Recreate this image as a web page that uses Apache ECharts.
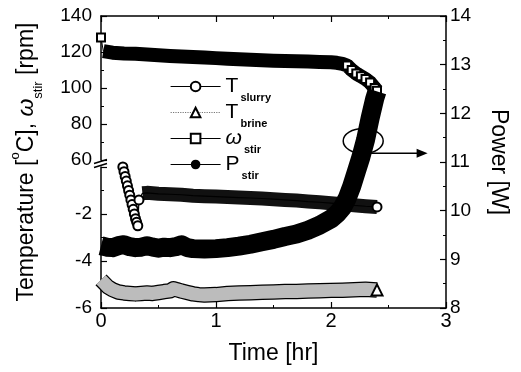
<!DOCTYPE html>
<html><head><meta charset="utf-8">
<script src="https://cdn.jsdelivr.net/npm/echarts@6/dist/echarts.min.js"></script>
<style>html,body{margin:0;padding:0;background:#fff}#c{width:521px;height:372px}</style>
</head><body><div id="c"></div><script>
// ---- data ----
const xTicks = [0, 1, 2, 3];
const upperTicks = [60, 80, 100, 120, 140];
const lowerTicks = [-6, -4, -2];
const powerTicks = [8, 9, 10, 11, 12, 13, 14];

// Stirring power P_stir [W] (right axis)
const pTime  = [0,0.05,0.1,0.15,0.2,0.25,0.3,0.35,0.4,0.45,0.5,0.55,0.6,0.65,0.7,0.75,0.8,0.9,1.0,1.1,1.2,1.3,1.4,1.5,1.6,1.7,1.8,1.9,2.0,2.05,2.1,2.14,2.18,2.22,2.26,2.3,2.34,2.38,2.4];
const pValue = [9.28,9.25,9.24,9.28,9.3,9.26,9.24,9.25,9.28,9.25,9.23,9.25,9.24,9.26,9.3,9.24,9.22,9.21,9.22,9.24,9.27,9.31,9.36,9.41,9.47,9.52,9.6,9.7,9.83,9.93,10.07,10.25,10.5,10.8,11.1,11.45,11.9,12.3,12.45];

// Stirring speed omega_stir [rpm] (left axis, upper part)
const wTime  = [0,0.02,0.1,0.2,0.3,0.4,0.5,0.6,0.7,0.8,0.9,1.0,1.1,1.2,1.3,1.4,1.5,1.6,1.7,1.8,1.9,2.0,2.05,2.1,2.14,2.18,2.22,2.26,2.3,2.34,2.38,2.4];
const wValue = [128,120.5,119.6,119.2,119,118.6,118.2,117.8,117.5,117.2,116.9,116.6,116.3,116,115.7,115.4,115.2,115,114.9,114.7,114.5,114.3,114,113.4,112.5,110,108,106.5,105,103,100,98.5];

// Slurry temperature T_slurry [degC] (left axis, lower part)
const sTime  = [0.19,0.2,0.21,0.22,0.23,0.24,0.25,0.26,0.27,0.28,0.29,0.3,0.31,0.32,0.33,0.36,0.4,0.5,0.6,0.7,0.8,0.9,1.0,1.1,1.2,1.3,1.4,1.5,1.6,1.7,1.8,1.9,2.0,2.1,2.2,2.3,2.4];
const sValue = [0.0,-0.2,-0.4,-0.6,-0.8,-1.0,-1.2,-1.4,-1.6,-1.8,-2.0,-2.2,-2.35,-2.5,-1.4,-1.12,-1.1,-1.14,-1.16,-1.18,-1.22,-1.24,-1.26,-1.28,-1.3,-1.32,-1.34,-1.37,-1.4,-1.43,-1.47,-1.5,-1.54,-1.58,-1.63,-1.67,-1.7];

// Brine temperature T_brine [degC] (left axis, lower part)
const bTime  = [0,0.03,0.06,0.1,0.15,0.2,0.25,0.3,0.35,0.4,0.45,0.5,0.55,0.6,0.63,0.66,0.7,0.75,0.8,0.85,0.9,1.0,1.1,1.2,1.3,1.4,1.5,1.6,1.7,1.8,1.9,2.0,2.1,2.2,2.3,2.4];
const bValue = [-4.8,-4.95,-5.1,-5.22,-5.32,-5.36,-5.38,-5.4,-5.38,-5.36,-5.38,-5.34,-5.3,-5.27,-5.18,-5.22,-5.28,-5.34,-5.4,-5.43,-5.45,-5.43,-5.38,-5.36,-5.35,-5.33,-5.32,-5.3,-5.3,-5.28,-5.27,-5.25,-5.24,-5.22,-5.2,-5.23];

// annotation (ellipse around the power curve, arrow to the right axis)
const markCenter = [2.28, 11.43];
const arrowFrom = [2.33, 11.18];
const arrowTo = [2.84, 11.18];

// ---- build ----
const zip = (a, b) => a.map((v, i) => [v, b[i]]);
const pData = zip(pTime, pValue);
const wData = zip(wTime, wValue);
const sData = zip(sTime, sValue);
const bData = zip(bTime, bValue);
const jumpIdx = sValue.findIndex((v, i) => i > 0 && v > sValue[i - 1]);

const FONT = 'Liberation Sans';
const L = 101, R = 75, TOP = 16, BOT = 64;
const UP_H = 144, LOW_TOP = 167;

const axisLine = {show: true, onZero: false, lineStyle: {color: '#000', width: 1.5}};
const axisTick = {show: true, inside: true, length: 6, lineStyle: {color: '#000', width: 1.2}};
const minorTick = {show: true, splitNumber: 2, length: 3, lineStyle: {color: '#000', width: 1}};
const noSplit = {show: false};

const chart = echarts.init(document.getElementById('c'), null, {renderer: 'canvas'});

const legendText = {
  'T_slurry': '{m|T}{s|slurry}',
  'T_brine': '{m|T}{s|brine}',
  'ω_stir': '{w|ω}{s|stir}',
  'P_stir': '{m|P}{s|stir}'
};

const option = {
  animation: false,
  backgroundColor: '#fff',
  textStyle: {fontFamily: FONT, color: '#000'},
  grid: [
    {left: L, right: R, top: TOP, height: UP_H},
    {left: L, right: R, top: LOW_TOP, bottom: BOT},
    {left: L, right: R, top: TOP, bottom: BOT}
  ],
  xAxis: [
    {gridIndex: 0, type: 'value', position: 'top', min: xTicks[0], max: xTicks[xTicks.length - 1], interval: 1,
     axisLine, axisTick, minorTick, axisLabel: {show: false}, splitLine: noSplit},
    {gridIndex: 1, type: 'value', position: 'bottom', min: xTicks[0], max: xTicks[xTicks.length - 1], interval: 1,
     axisLine, axisTick, minorTick, splitLine: noSplit,
     axisLabel: {fontSize: 20, color: '#000', margin: 3, fontFamily: FONT},
     name: 'Time [hr]', nameLocation: 'middle', nameGap: 34,
     nameTextStyle: {fontSize: 23, color: '#000', fontFamily: FONT}},
    {gridIndex: 2, type: 'value', min: xTicks[0], max: xTicks[xTicks.length - 1], show: false}
  ],
  yAxis: [
    {gridIndex: 0, type: 'value', position: 'left', min: upperTicks[0], max: upperTicks[upperTicks.length - 1], interval: 20,
     axisLine, axisTick, minorTick, splitLine: noSplit,
     axisLabel: {fontSize: 19, color: '#000', margin: 9, fontFamily: FONT}},
    {gridIndex: 1, type: 'value', position: 'left', min: lowerTicks[0], max: 0, interval: 2,
     axisLine, axisTick, minorTick, splitLine: noSplit,
     axisLabel: {fontSize: 19, color: '#000', margin: 9, fontFamily: FONT, showMaxLabel: false}},
    {gridIndex: 2, type: 'value', position: 'right', min: powerTicks[0], max: powerTicks[powerTicks.length - 1], interval: 1,
     axisLine, axisTick, minorTick, splitLine: noSplit,
     axisLabel: {fontSize: 19, color: '#000', margin: 4, fontFamily: FONT},
     name: 'Power [W]', nameLocation: 'middle', nameRotate: -90, nameGap: 40,
     nameTextStyle: {fontSize: 23, color: '#000', fontFamily: FONT, lineHeight: 24}},
    {gridIndex: 2, type: 'value', position: 'left', min: 0, max: 1,
     axisLine: {show: false}, axisTick: {show: false}, axisLabel: {show: false}, splitLine: noSplit,
     name: '{a|Temperature [}{sup|o}{a|C], }{w|ω}{sub|stir}{a| [rpm]}',
     nameLocation: 'middle', nameRotate: 90, nameGap: 56,
     nameTextStyle: {
       color: '#000', fontFamily: FONT,
       rich: {
         a: {fontSize: 23, lineHeight: 36, color: '#000', fontFamily: FONT},
         w: {fontSize: 23, lineHeight: 36, color: '#000', fontFamily: FONT, fontStyle: 'italic'},
         sup: {fontSize: 13, lineHeight: 13, verticalAlign: 'top', color: '#000', fontFamily: FONT},
         sub: {fontSize: 13, lineHeight: 13, verticalAlign: 'bottom', color: '#000', fontFamily: FONT}
       }
     }}
  ],
  legend: {
    orient: 'vertical', left: 170, top: 76, padding: 0,
    itemWidth: 50, itemHeight: 12, itemGap: -1.5, selectedMode: false,
    data: [
      {name: 'T_slurry', lineStyle: {width: 1, color: '#000', opacity: 1}},
      {name: 'T_brine', lineStyle: {width: 1.2, color: '#777', type: 'dotted', opacity: 1}},
      {name: 'ω_stir', lineStyle: {width: 1, color: '#000', opacity: 1}},
      {name: 'P_stir', lineStyle: {width: 1, color: '#000', opacity: 1}}
    ],
    formatter: n => legendText[n],
    textStyle: {
      color: '#000', fontFamily: FONT,
      rich: {
        m: {fontSize: 21, lineHeight: 34, color: '#000', fontFamily: FONT},
        w: {fontSize: 21, lineHeight: 34, color: '#000', fontFamily: FONT, fontStyle: 'italic'},
        s: {fontSize: 11, lineHeight: 12, fontWeight: 'bold', verticalAlign: 'bottom', color: '#000', fontFamily: FONT, padding: [0, 0, 0, 2]}
      }
    }
  },
  series: [
    // brine band: dark edge + grey fill
    {name: '_brineEdge', type: 'line', xAxisIndex: 1, yAxisIndex: 1, data: bData, showSymbol: false, silent: true,
     lineStyle: {color: '#000', width: 15.5, join: 'round'}, z: 2},
    {name: '_brineFill', type: 'line', xAxisIndex: 1, yAxisIndex: 1, data: bData, showSymbol: false, silent: true,
     lineStyle: {color: '#bcbcbc', width: 13, join: 'round'}, z: 3},
    {name: 'T_brine', type: 'line', xAxisIndex: 1, yAxisIndex: 1, data: bData, symbol: 'emptyTriangle', showAllSymbol: true,
     symbolSize: (v, p) => p.dataIndex === bData.length - 1 ? 11 : 0,
     itemStyle: {color: '#000', borderWidth: 1}, lineStyle: {opacity: 0, width: 0}, z: 4},
    // slurry: thick band for the plateau, circles for the steep part
    {name: '_slurryBand', type: 'line', xAxisIndex: 1, yAxisIndex: 1, data: sData.slice(jumpIdx + 1), showSymbol: false, silent: true,
     lineStyle: {color: '#111', width: 14, join: 'round'}, z: 5},
    {name: 'T_slurry', type: 'line', xAxisIndex: 1, yAxisIndex: 1, data: sData, symbol: 'emptyCircle', showAllSymbol: true,
     symbolSize: (v, p) => (p.dataIndex <= jumpIdx || p.dataIndex === sData.length - 1) ? 9 : 0,
     itemStyle: {color: '#000', borderWidth: 1}, lineStyle: {color: '#000', width: 1.2}, z: 6},
    // stirring speed
    {name: '_wBand', type: 'line', xAxisIndex: 0, yAxisIndex: 0, data: wData.slice(1), showSymbol: false, silent: true,
     lineStyle: {color: '#000', width: 14, join: 'round'}, z: 5},
    {name: 'ω_stir', type: 'line', xAxisIndex: 0, yAxisIndex: 0, data: wData, symbol: 'emptyRect', showAllSymbol: true,
     symbolSize: (v, p) => (p.dataIndex === 0 || v[0] >= 2.12) ? 8 : 0,
     itemStyle: {color: '#000', borderWidth: 1}, lineStyle: {color: '#000', width: 1}, z: 6},
    // stirring power
    {name: 'P_stir', type: 'line', xAxisIndex: 2, yAxisIndex: 2, data: pData, symbol: 'circle', showAllSymbol: true,
     symbolSize: 0, itemStyle: {color: '#000'}, lineStyle: {color: '#000', width: 19, join: 'round'}, z: 7}
  ]
};
chart.setOption(option);

// annotation + axis-break marks, positioned through the chart's own scales
const px = v => chart.convertToPixel({gridIndex: 2}, v);
const c = px(markCenter), a0 = px(arrowFrom), a1 = px(arrowTo);
const yBreak = (TOP + UP_H + LOW_TOP) / 2;
chart.setOption({
  graphic: [
    {type: 'ellipse', shape: {cx: c[0], cy: c[1], rx: 20, ry: 12.5}, style: {fill: 'none', stroke: '#000', lineWidth: 1.5}, z: 100},
    {type: 'line', shape: {x1: a0[0], y1: a0[1], x2: a1[0] - 9, y2: a1[1]}, style: {stroke: '#000', lineWidth: 1.5}, z: 100},
    {type: 'polygon', shape: {points: [[a1[0] - 11, a1[1] - 4.5], [a1[0], a1[1]], [a1[0] - 11, a1[1] + 4.5]]}, style: {fill: '#000'}, z: 100},
    {type: 'line', shape: {x1: L - 7, y1: yBreak, x2: L + 6, y2: yBreak - 4}, style: {stroke: '#000', lineWidth: 1.5}, z: 100},
    {type: 'line', shape: {x1: L - 7, y1: yBreak + 4, x2: L + 6, y2: yBreak}, style: {stroke: '#000', lineWidth: 1.5}, z: 100}
  ]
});
</script></body></html>
